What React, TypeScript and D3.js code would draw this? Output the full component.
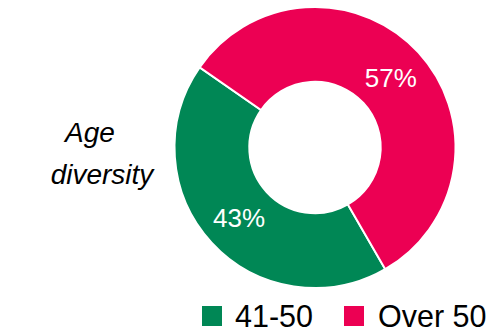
import React from "react";
import * as d3 from "d3";

const categories = ["41-50", "Over 50"];
const values = [43, 57];
const labels = ["43%", "57%"];
const colors = ["#008755", "#EC0053"];

export default function App() {
  const width = 497;
  const height = 333;
  const cx = 315;
  const cy = 147.5;
  const outerR = 140.5;
  const innerR = 65.7;

  const pie = d3
    .pie<number>()
    .sort(null)
    .value((d) => d)
    .startAngle((150 * Math.PI) / 180)
    .endAngle((510 * Math.PI) / 180);
  const arcs = pie(values);
  const arc = d3.arc<d3.PieArcDatum<number>>().innerRadius(innerR).outerRadius(outerR);

  const legendX = [202, 344];
  const legendTextX = [235, 378];

  return (
    <svg
      width={width}
      height={height}
      style={{ position: "absolute", left: 0, top: 0, fontFamily: "'Liberation Sans', Arial, sans-serif" }}
    >
      <rect width={width} height={height} fill="#ffffff" />
      <g transform={`translate(${cx},${cy})`}>
        {arcs.map((a, i) => (
          <path key={i} d={arc(a) || ""} fill={colors[i]} stroke="#ffffff" strokeWidth={2} />
        ))}
        {arcs.map((a, i) => {
          const [x, y] = arc.centroid(a);
          return (
            <text
              key={"l" + i}
              x={x}
              y={y}
              dy="0.36em"
              textAnchor="middle"
              fill="#ffffff"
              fontSize={26}
            >
              {labels[i]}
            </text>
          );
        })}
      </g>
      <text x={90} y={142} textAnchor="middle" fontSize={28} fontStyle="italic" fill="#000">
        Age
      </text>
      <text x={102} y={184} textAnchor="middle" fontSize={28} fontStyle="italic" fill="#000">
        diversity
      </text>
      {categories.map((c, i) => (
        <g key={c}>
          <rect x={legendX[i]} y={306} width={20} height={20} fill={colors[i]} />
          <text x={legendTextX[i]} y={326.5} fontSize={30.5} fill="#000">
            {c}
          </text>
        </g>
      ))}
    </svg>
  );
}
